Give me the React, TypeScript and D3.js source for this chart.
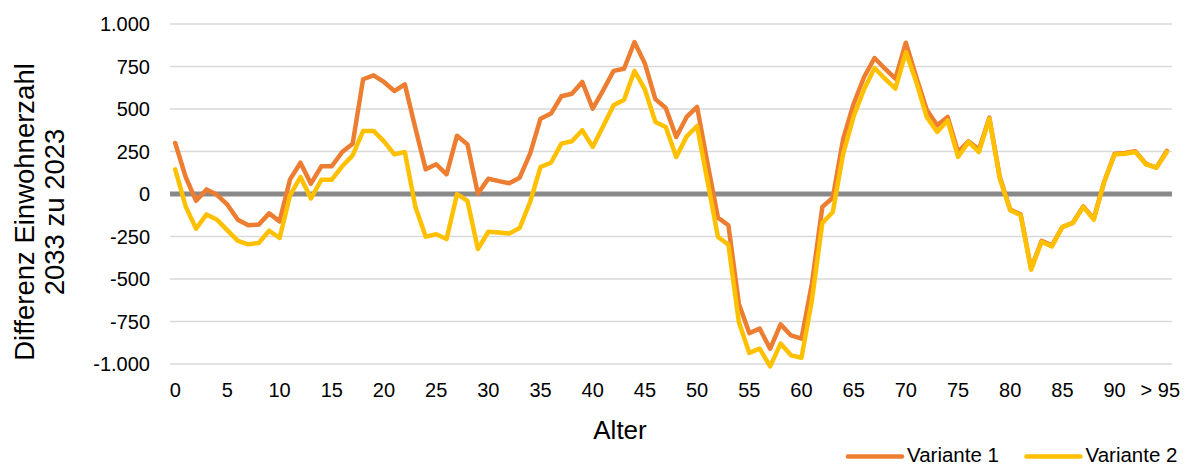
import React from "react";
import * as d3 from "d3";

// Age classes 0 … 94 and the open class "> 95"
const ages: string[] = [...d3.range(0, 95).map(String), "> 95"];

// Difference in inhabitants 2033 vs. 2023 per age, scenario 1
const variante1: number[] = [
  300, 100, -40, 27, -5, -63, -151, -184, -180, -114, -161, 86, 184, 61, 163, 163, 247, 296, 675, 698, 659, 606, 645,
  390, 145, 175, 116, 343, 292, 2, 90, 76, 63, 96, 237, 443, 473, 575, 590, 659, 502, 610, 724, 737, 894, 767, 558,
  506, 335, 453, 512, 180, -139, -184, -645, -818, -792, -910, -767, -832, -851, -527, -76, -22, 326, 531, 688, 800, 737, 678,
  890, 688, 496, 404, 453, 247, 310, 261, 449, 100, -92, -120, -439, -276, -302, -194, -169, -73, -145, 71, 237, 241, 251, 178, 155, 253,
];

// Difference in inhabitants 2033 vs. 2023 per age, scenario 2
const variante2: number[] = [
  145, -73, -204, -120, -151, -214, -276, -296, -288, -216, -259, -8, 100, -27, 84, 84, 163, 227, 371, 371, 310, 233, 247,
  -73, -251, -237, -265, 0, -41, -324, -222, -226, -233, -200, -47, 159, 184, 296, 310, 375, 277, 398, 522, 555, 724, 615, 424,
  394, 218, 339, 400, 75, -253, -298, -753, -935, -910, -1014, -880, -949, -963, -625, -171, -106, 237, 457, 616, 741, 678, 620,
  835, 659, 453, 365, 433, 218, 306, 247, 443, 90, -96, -125, -445, -282, -308, -194, -171, -76, -151, 71, 233, 237, 247, 175, 155, 247,
];

const yTicks: number[] = [1000, 750, 500, 250, 0, -250, -500, -750, -1000];
const yTickLabels: string[] = ["1.000", "750", "500", "250", "0", "-250", "-500", "-750", "-1.000"];

const seriesNames: string[] = ["Variante 1", "Variante 2"];
const seriesColors: string[] = ["#ED7D31", "#FFC000"];

const W = 1185;
const H = 466;
const plot = { left: 170, right: 1172, top: 24, bottom: 364 };
const FONT = "'Liberation Sans', Arial, sans-serif";

export default function App() {
  const x = d3.scaleBand<string>().domain(ages).range([plot.left, plot.right]);
  const cx = (a: string) => (x(a) ?? 0) + x.bandwidth() / 2;
  const y = d3.scaleLinear().domain([-1000, 1000]).range([plot.bottom, plot.top]);

  const line = d3
    .line<number>()
    .x((_, i) => cx(ages[i]))
    .y((d) => y(d));

  const series = [variante1, variante2];
  const tickAges = ages.filter((_, i) => i % 5 === 0);

  return (
    <svg
      width={W}
      height={H}
      style={{ position: "absolute", left: 0, top: 0, background: "#fff" }}
      fontFamily={FONT}
    >
      {/* horizontal gridlines */}
      {yTicks.map((t) =>
        t === 0 ? null : (
          <line key={t} x1={plot.left} x2={plot.right} y1={y(t)} y2={y(t)} stroke="#d9d9d9" strokeWidth={1.5} />
        )
      )}
      {/* zero line */}
      <line x1={plot.left} x2={plot.right} y1={y(0)} y2={y(0)} stroke="#898989" strokeWidth={5} />

      {/* y tick labels */}
      {yTicks.map((t, i) => (
        <text key={t} x={150} y={y(t) + 7} textAnchor="end" fontSize={20} fill="#000">
          {yTickLabels[i]}
        </text>
      ))}

      {/* x tick labels */}
      {tickAges.map((a) => {
        const last = a === ages[ages.length - 1];
        const px = cx(a);
        return (
          <text
            key={a}
            x={last ? Math.min(px + 20, 1180) : px}
            y={397}
            textAnchor={last ? "end" : "middle"}
            fontSize={20}
            fill="#000"
          >
            {a}
          </text>
        );
      })}

      {/* data lines */}
      {series.map((s, k) => (
        <path
          key={k}
          d={line(s) ?? ""}
          fill="none"
          stroke={seriesColors[k]}
          strokeWidth={4.5}
          strokeLinejoin="round"
          strokeLinecap="round"
        />
      ))}

      {/* axis titles */}
      <text x={620} y={439} textAnchor="middle" fontSize={26} fill="#000">
        Alter
      </text>
      <g transform="translate(0,212) rotate(-90)">
        <text x={0} y={34} textAnchor="middle" fontSize={27.5} fill="#000">
          Differenz Einwohnerzahl
        </text>
        <text x={0} y={63.5} textAnchor="middle" fontSize={27.5} fill="#000">
          2033 zu 2023
        </text>
      </g>

      {/* legend */}
      {seriesNames.map((n, k) => {
        const x0 = k === 0 ? 848 : 1026.5;
        return (
          <g key={n}>
            <line x1={x0} x2={x0 + 54} y1={456.5} y2={456.5} stroke={seriesColors[k]} strokeWidth={4.5} strokeLinecap="round" />
            <text x={x0 + 59} y={461.5} fontSize={20.5} fill="#000">
              {n}
            </text>
          </g>
        );
      })}
    </svg>
  );
}
